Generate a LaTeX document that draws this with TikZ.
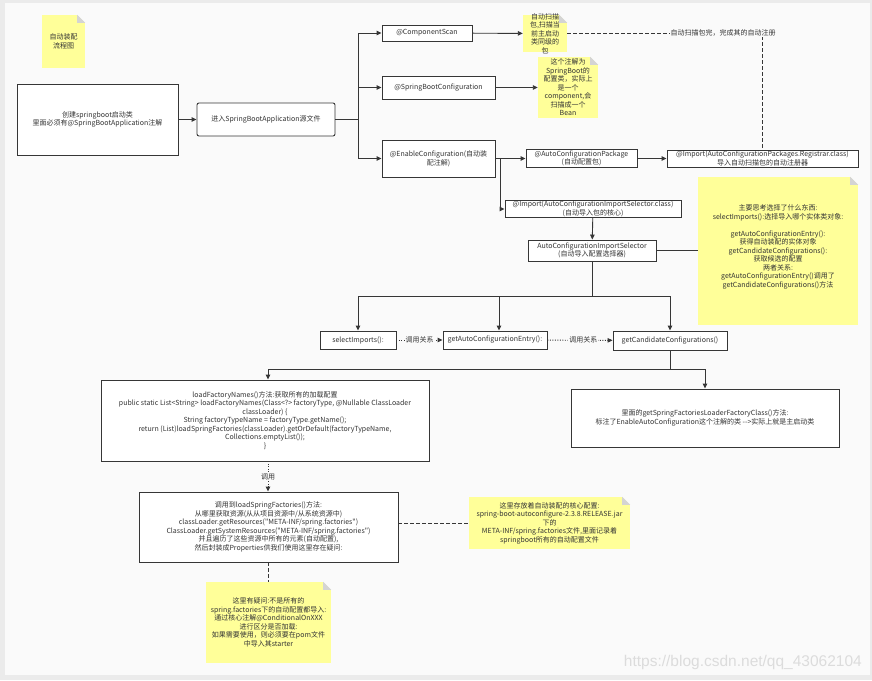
\documentclass[tikz,border=0pt]{standalone}
\usepackage{fontspec}
\newfontfamily\mainf{Noto Sans CJK SC}
\newfontfamily\wmfont{Liberation Sans}
\usetikzlibrary{arrows.meta}
\definecolor{canvas}{HTML}{FAFAFA}
\definecolor{outerbg}{HTML}{EBEBEB}
\definecolor{ln}{HTML}{363636}
\definecolor{txt}{HTML}{333333}
\definecolor{notey}{HTML}{FFFF99}
\definecolor{foldc}{HTML}{D4D4D4}
\definecolor{wm}{HTML}{DCDCDC}
\newcommand\fs{\mainf\fontsize{7}{8.5}\selectfont}
\newcommand\fst{\mainf\fontsize{7}{7.4}\selectfont}
\tikzset{
 box/.style={draw=ln, fill=white, line width=0.9pt, inner sep=0pt, align=center, font=\fs, text=txt},
 tightbox/.style={box, font=\fst},
 notebox/.style={fill=notey, inner sep=0pt},
 notetext/.style={inner sep=0pt, align=center, font=\fs, text=txt},
 arr/.style={draw=ln, line width=0.9pt, -{Triangle[length=5pt,width=4.5pt]}},
 plainln/.style={draw=ln, line width=0.9pt},
 dashln/.style={draw=ln, line width=0.9pt, dash pattern=on 3.5pt off 2.5pt},
 dotarr/.style={arr, dash pattern=on 1pt off 1.5pt},
 lbl/.style={fill=canvas, inner sep=1pt, font=\fs, text=txt},
}
\newcommand\notefold[1]{%
 \fill[canvas] (#1.north east) -- ++(-8,0) -- ++(8,8) -- cycle;
 \fill[foldc] ([xshift=-8pt]#1.north east) -- ++(0,8) -- ++(8,0) -- cycle;}
\begin{document}
\begin{tikzpicture}[x=1pt,y=-1pt]
\fill[outerbg] (0,0) rectangle (872,680);
\fill[canvas] (5,3) rectangle (870,675);
\useasboundingbox (0,0) rectangle (872,680);

% ---------- notes ----------
\node[notebox, minimum width=43, minimum height=53] (N1) at (63.5,41.5) {};
\notefold{N1}
\node[notetext] (N1t) at (N1.center) {自动装配\\流程图};

\node[notebox, minimum width=44, minimum height=37] (N2) at (545,33.5) {};
\notefold{N2}
\node[notetext] (N2t) at (N2.center) {自动扫描\\包,扫描当\\前主启动\\类同级的\\包};

\node[notebox, minimum width=60, minimum height=61] (N3) at (568,87.5) {};
\notefold{N3}
\node[notetext] (N3t) at (N3.center) {这个注解为\\SpringBoot的\\配置类，实际上\\是一个\\component,会\\扫描成一个\\Bean};

\node[notebox, minimum width=160, minimum height=148] (N4) at (778,251) {};
\notefold{N4}
\node[notetext] (N4t) at ([yshift=4pt]N4.center) {主要思考选择了什么东西:\\selectImports():选择导入哪个实体类对象:\\[8.5pt]getAutoConfigurationEntry():\\获得自动装配的实体对象\\getCandidateConfigurations():\\获取候选的配置\\两者关系:\\getAutoConfigurationEntry()调用了\\getCandidateConfigurations()方法};

\node[notebox, minimum width=161, minimum height=52] (N5) at (549.5,523) {};
\notefold{N5}
\node[notetext] (N5t) at (N5.center) {这里存放着自动装配的核心配置:\\spring-boot-autoconfigure-2.3.8.RELEASE.jar\\下的\\META-INF/spring.factories文件,里面记录着\\springboot所有的自动配置文件};

\node[notebox, minimum width=125, minimum height=81] (N6) at (268.5,622.5) {};
\notefold{N6}
\node[notetext] (N6t) at (N6.center) {这里有疑问:不是所有的\\spring.factories下的自动配置都导入:\\通过核心注解@ConditionalOnXXX\\进行区分是否加载:\\如果需要使用，则必须要在pom文件\\中导入其starter};

% ---------- boxes ----------
\node[box, minimum width=161, minimum height=71] (A) at (97.5,119.5) {创建springboot启动类\\里面必须有@SpringBootApplication注解};
\node[box, rounded corners=2pt, minimum width=138, minimum height=33] (B) at (266,119.5) {进入SpringBootApplication源文件};
\node[box, minimum width=90, minimum height=16] (CS) at (427,33) {@ComponentScan};
\node[box, minimum width=113, minimum height=23] (SBC) at (438.5,87.5) {@SpringBootConfiguration};
\node[box, minimum width=113, minimum height=37] (EC) at (438.5,158.5) {@EnableConfiguration(自动装\\配注解)};
\node[tightbox, minimum width=111, minimum height=18] (ACP) at (581.5,158.5) {@AutoConfigurationPackage\\(自动配置包)};
\node[tightbox, minimum width=191, minimum height=17] (IR) at (762.5,158.5) {@Import(AutoConfigurationPackages.Registrar.class)\\导入自动扫描包的自动注册器};
\node[tightbox, minimum width=176, minimum height=17] (IS) at (593,209) {@Import(AutoConfigurationImportSelector.class)\\(自动导入包的核心)};
\node[tightbox, minimum width=128, minimum height=21] (ACIS) at (592,250.5) {AutoConfigurationImportSelector\\(自动导入配置选择器)};
\node[box, minimum width=76, minimum height=18] (SI) at (358,340) {selectImports():};
\node[box, minimum width=104, minimum height=18] (GAE) at (495,340) {getAutoConfigurationEntry():};
\node[box, minimum width=114, minimum height=19] (GCC) at (670,340.5) {getCandidateConfigurations()};
\node[box, minimum width=328, minimum height=81] (LFN) at (265,420.5) {loadFactoryNames()方法:获取所有的加载配置\\public static List<String> loadFactoryNames(Class<?> factoryType, @Nullable ClassLoader\\classLoader) \{\\String factoryTypeName = factoryType.getName();\\return (List)loadSpringFactories(classLoader).getOrDefault(factoryTypeName,\\Collections.emptyList());\\\}};
\node[box, minimum width=268, minimum height=58] (RB) at (705,418) {里面的getSpringFactoriesLoaderFactoryClass()方法:\\标注了EnableAutoConfiguration这个注解的类 -->实际上就是主启动类};
\node[box, minimum width=259, minimum height=70] (LSF) at (268.5,527) {调用到loadSpringFactories()方法:\\从哪里获取资源(从从项目资源中/从系统资源中)\\classLoader.getResources("META-INF/spring.factories")\\ClassLoader.getSystemResources("META-INF/spring.factories")\\并且遍历了这些资源中所有的元素(自动配置),\\然后封装成Properties供我们使用这里存在疑问:};

% ---------- connectors ----------
\draw[arr] (A) -- (B);
\coordinate (T) at (358,119.5);
\draw[plainln] (B.east) -- (T);
\draw[arr] (T) |- (CS.west);
\draw[arr] (T) |- (SBC.west);
\draw[arr] (T) |- (EC.west);
\draw[arr] (CS) -- (N2);
\draw[arr] (SBC) -- (N3);
\draw[dashln] (N2.east) -| (IR.north);
\node[lbl] (L1) at (723,33) {自动扫描包完，完成其的自动注册};
\draw[arr] (EC) -- (ACP);
\draw[arr] (ACP) -- (IR);
\coordinate (E2) at (500,158.5);
\draw[arr] (E2) |- (IS.west);
\draw[arr] (IS) -- (ACIS);
\draw[plainln] (ACIS.east) -- (ACIS.east -| N4.west);
\coordinate (H1) at (592,296);
\coordinate (H1a) at (358,296);
\coordinate (H1b) at (499,296);
\coordinate (H1c) at (670,296);
\draw[plainln] (ACIS.south) -- (H1);
\draw[plainln] (H1a) -- (H1c);
\draw[arr] (H1a) -- (SI.north);
\draw[arr] (H1b) -- (H1b |- GAE.north);
\draw[arr] (H1c) -- (GCC.north);
\draw[dotarr] (SI) -- node[lbl] (L2) {调用关系} (GAE);
\draw[dotarr] (GAE) -- node[lbl, pos=0.55] (L3) {调用关系} (GCC);
\coordinate (H2) at (670,369);
\coordinate (H2a) at (268,369);
\coordinate (H2b) at (705,369);
\draw[plainln] (GCC.south) -- (H2);
\draw[plainln] (H2a) -- (H2b);
\draw[arr] (H2a) -- (H2a |- LFN.north);
\draw[arr] (H2b) -- (RB.north);
\draw[dotarr] (LFN.south -| H2a) -- node[lbl, pos=0.5] (L4) {调用} (LSF.north -| H2a);
\draw[dashln] (N5.west -| LSF.east) -- (N5.west);
\draw[dashln] (LSF.south -| H2a) -- (N6.north -| H2a);

\node[font=\wmfont\fontsize{15.5}{15.5}\selectfont, text=wm, anchor=east, inner sep=0pt] (WM) at (862,662) {https://blog.csdn.net/qq\_43062104};
\end{tikzpicture}
\end{document}
